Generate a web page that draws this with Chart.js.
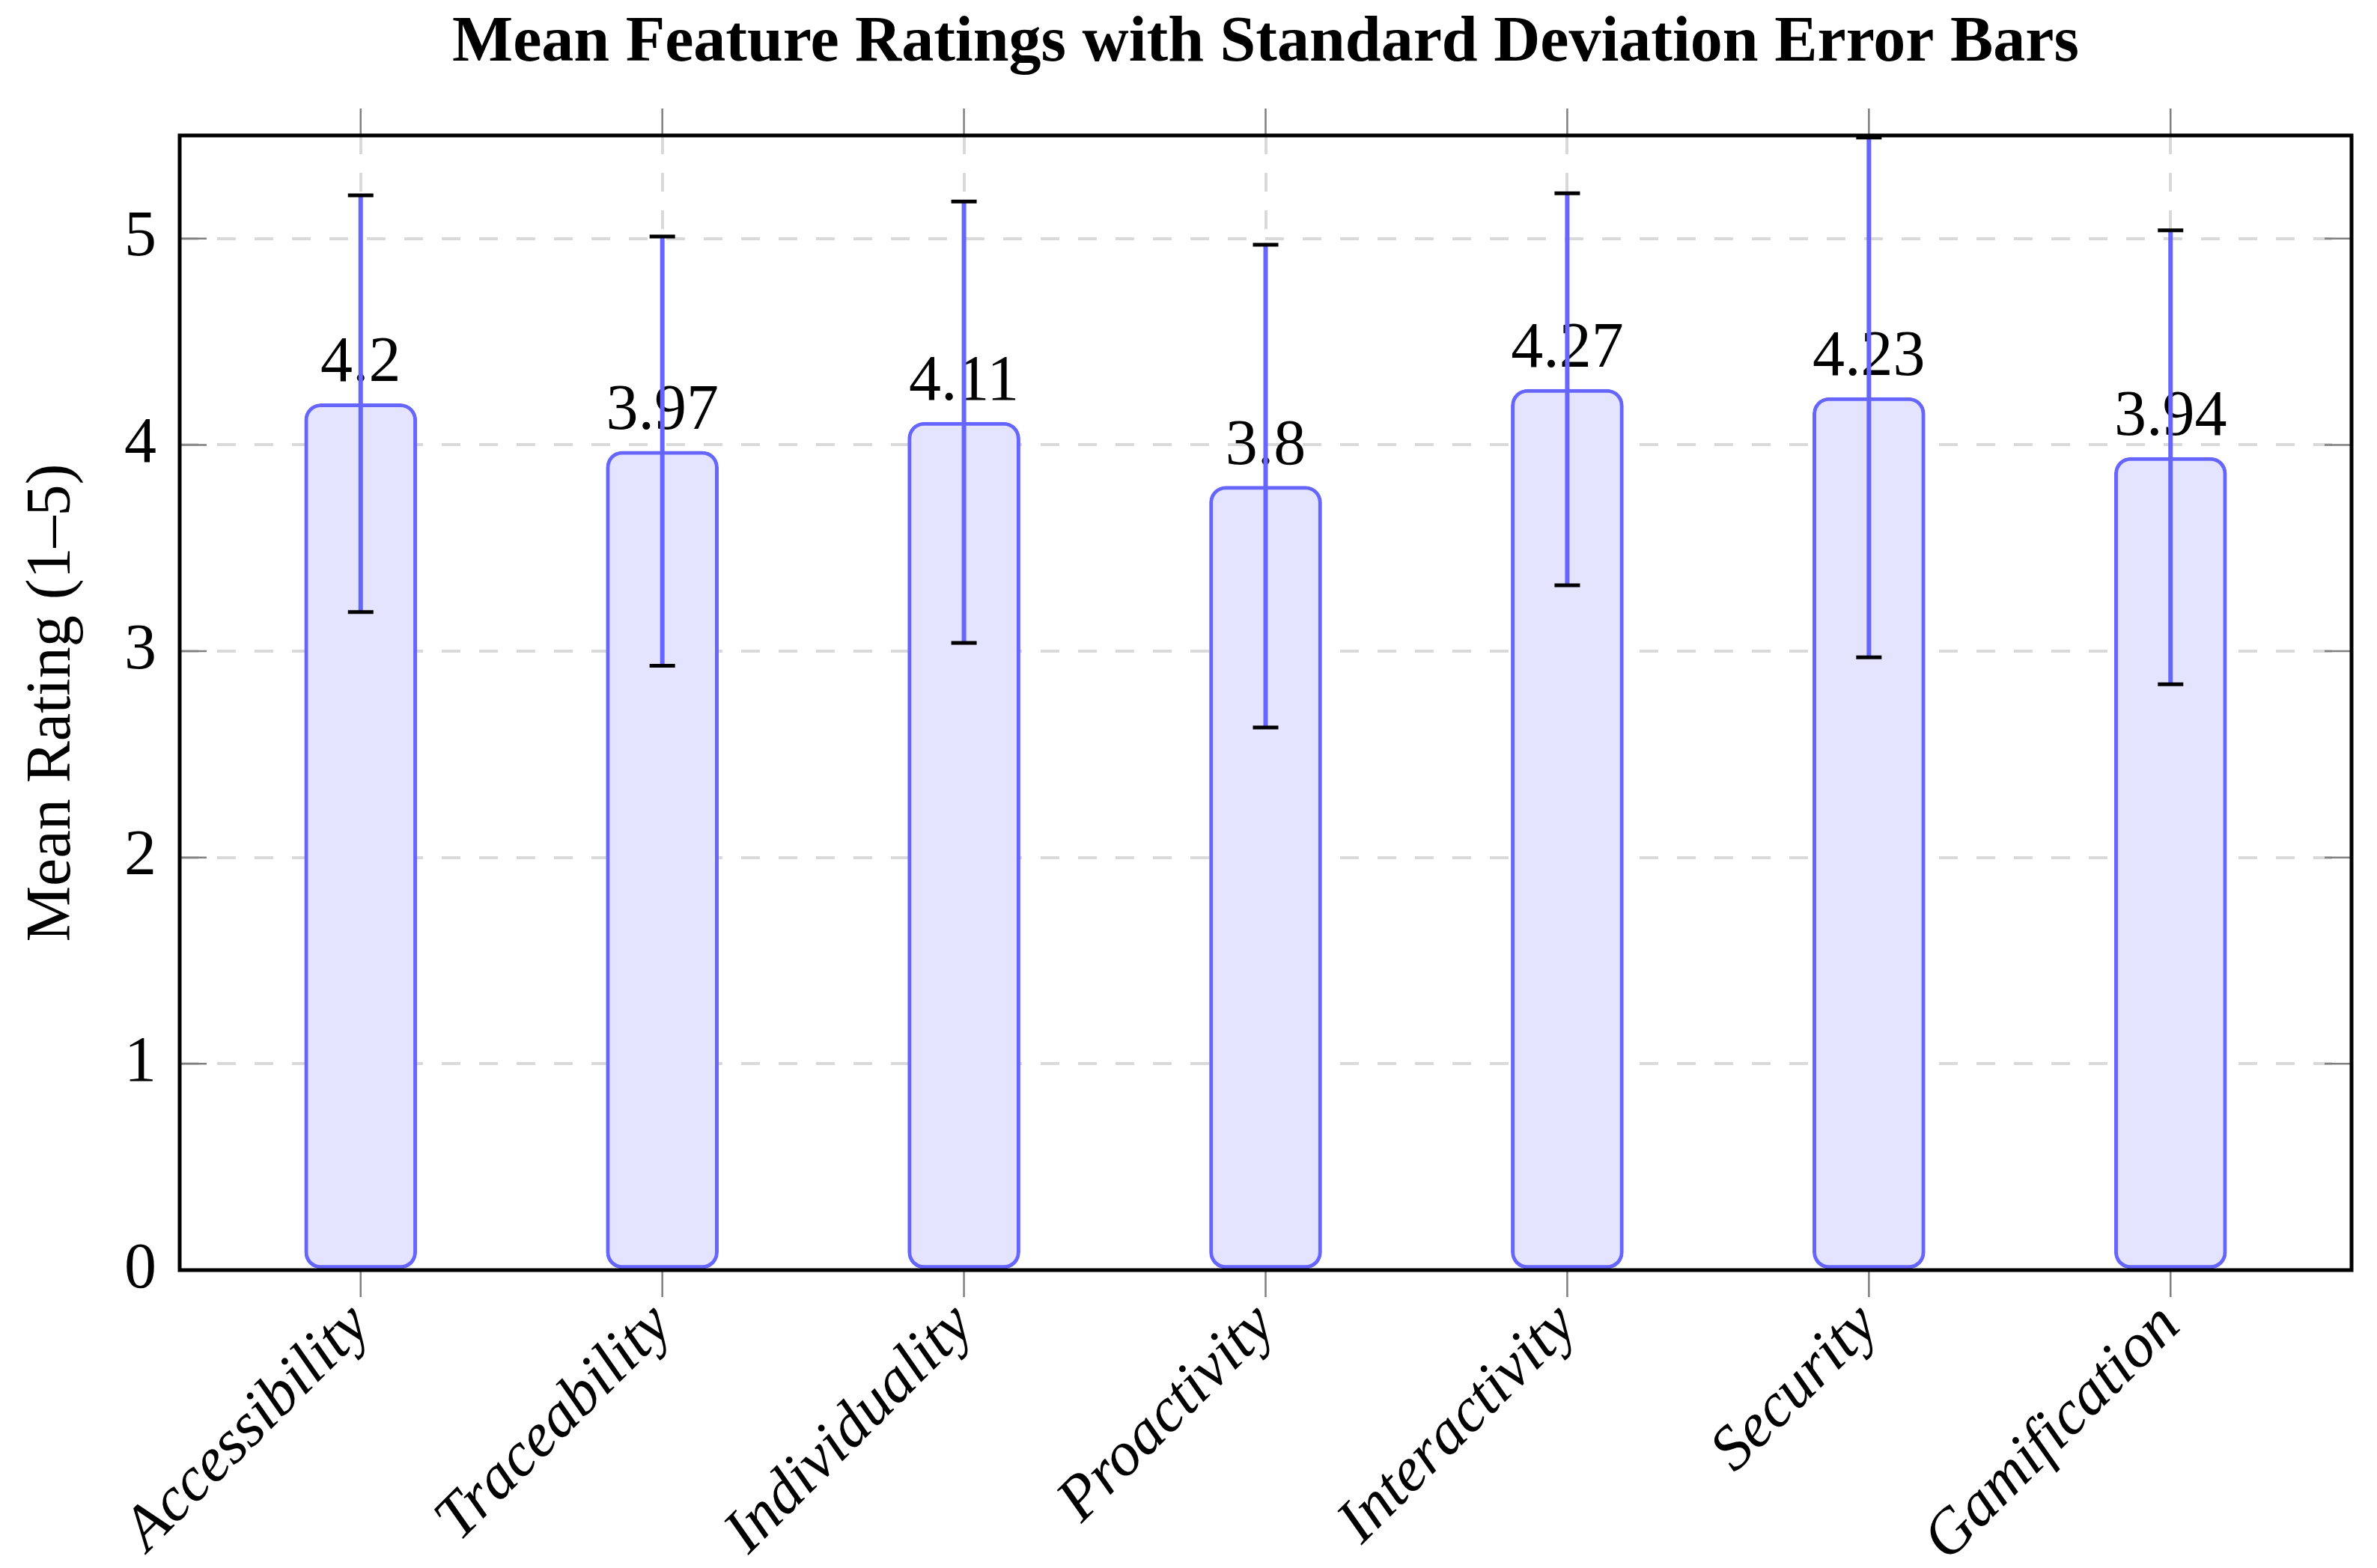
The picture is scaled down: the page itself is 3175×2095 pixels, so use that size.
<!DOCTYPE html>
<html lang="en">
  <head>
    <meta charset="UTF-8" />
    <title>Mean Feature Ratings</title>
    <script src="https://cdn.jsdelivr.net/npm/chart.js@4.4.1/dist/chart.umd.min.js"></script>
    <style>
      body { margin: 0; background: #fff; }
      canvas { display: block; }
    </style>
  </head>

  <body>
    <canvas id="myChart" width="3175" height="2095" style="width:3175px;height:2095px"></canvas>

    <script>
      const categories = ["Accessibility", "Traceability", "Individuality", "Proactivity", "Interactivity", "Security", "Gamification"];
      const means = [4.2, 3.97, 4.11, 3.8, 4.27, 4.23, 3.94];
      const stdDevs = [1.01, 1.04, 1.07, 1.17, 0.95, 1.26, 1.1];
      const yTicks = [0, 1, 2, 3, 4, 5];

      const serif = "'Liberation Serif', 'Times New Roman', serif";
      const blue = "rgb(102,102,255)";

      // error bars, value labels, ticks and frame
      const extras = {
        id: "extras",
        afterDatasetsDraw(chart) {
          const ctx = chart.ctx;
          const x = chart.scales.x;
          const y = chart.scales.y;
          const area = chart.chartArea;
          ctx.save();

          // value labels
          ctx.fillStyle = "#000";
          ctx.font = "86px " + serif;
          ctx.textAlign = "center";
          ctx.textBaseline = "alphabetic";
          means.forEach((m, i) => {
            ctx.fillText(String(m), x.getPixelForValue(i), y.getPixelForValue(m) - 30);
          });

          // error bars
          means.forEach((m, i) => {
            const px = x.getPixelForValue(i);
            const top = y.getPixelForValue(m + stdDevs[i]);
            const bot = y.getPixelForValue(m - stdDevs[i]);
            ctx.strokeStyle = blue;
            ctx.lineWidth = 6;
            ctx.beginPath();
            ctx.moveTo(px, top);
            ctx.lineTo(px, bot);
            ctx.stroke();
            ctx.strokeStyle = "#000";
            ctx.lineWidth = 5;
            ctx.beginPath();
            ctx.moveTo(px - 17, top);
            ctx.lineTo(px + 17, top);
            ctx.moveTo(px - 17, bot);
            ctx.lineTo(px + 17, bot);
            ctx.stroke();
          });

          // tick marks
          ctx.strokeStyle = "#808080";
          ctx.lineWidth = 2.5;
          ctx.beginPath();
          categories.forEach((c, i) => {
            const px = x.getPixelForValue(i);
            ctx.moveTo(px, area.top - 36);
            ctx.lineTo(px, area.top);
            ctx.moveTo(px, area.bottom);
            ctx.lineTo(px, area.bottom + 36);
          });
          yTicks.forEach((t) => {
            const py = y.getPixelForValue(t);
            ctx.moveTo(area.left, py);
            ctx.lineTo(area.left + 36, py);
            ctx.moveTo(area.right - 36, py);
            ctx.lineTo(area.right, py);
          });
          ctx.stroke();

          // frame
          ctx.strokeStyle = "#000";
          ctx.lineWidth = 5;
          ctx.strokeRect(area.left, area.top, area.right - area.left, area.bottom - area.top);
          ctx.restore();
        },
      };

      const ctx = document.getElementById("myChart");

      const config = {
        type: "bar",
        data: {
          datasets: [
            {
              data: categories.map((c, i) => ({ x: i, y: means[i] })),
              backgroundColor: "rgb(228,228,255)",
              borderColor: blue,
              borderWidth: 5,
              borderRadius: 22,
              borderSkipped: false,
              barThickness: 150,
            },
          ],
        },
        options: {
          responsive: false,
          devicePixelRatio: 1,
          animation: false,
          layout: { padding: { left: 0, right: 34, top: 0, bottom: 0 } },
          plugins: {
            legend: { display: false },
            tooltip: { enabled: false },
            title: {
              display: true,
              fullSize: false,
              text: "Mean Feature Ratings with Standard Deviation Error Bars",
              color: "#000",
              font: { family: serif, size: 86, weight: "bold", lineHeight: 1.2 },
              padding: { top: 7, bottom: 70.8 },
            },
          },
          scales: {
            x: {
              type: "linear",
              min: -0.6,
              max: 6.6,
              offset: false,
              afterBuildTicks: (scale) => {
                scale.ticks = categories.map((c, i) => ({ value: i }));
              },
              afterFit: (scale) => {
                scale.height = 398;
              },
              grid: { offset: false, color: "#d9d9d9", lineWidth: 4, drawTicks: false },
              border: { display: false, dash: [25, 25] },
              ticks: {
                autoSkip: false,
                minRotation: 45,
                maxRotation: 45,
                padding: 26,
                color: "#000",
                font: { family: serif, size: 84, style: "italic" },
                callback: (v) => categories[v],
              },
            },
            y: {
              min: 0,
              max: 5.5,
              afterBuildTicks: (scale) => {
                scale.ticks = yTicks.map((v) => ({ value: v }));
              },
              afterFit: (scale) => {
                scale.width = 240;
              },
              grid: { color: "#d9d9d9", lineWidth: 4, drawTicks: false },
              border: { display: false, dash: [25, 25] },
              ticks: {
                padding: 31,
                color: "#000",
                font: { family: serif, size: 86 },
              },
              title: {
                display: true,
                text: "Mean Rating (1–5)",
                color: "#000",
                font: { family: serif, size: 84, lineHeight: 1.2 },
                padding: { top: 21, bottom: 0 },
              },
            },
          },
        },
        plugins: [extras],
      };

      const myChart = new Chart(ctx, config);
    </script>
  </body>
</html>
